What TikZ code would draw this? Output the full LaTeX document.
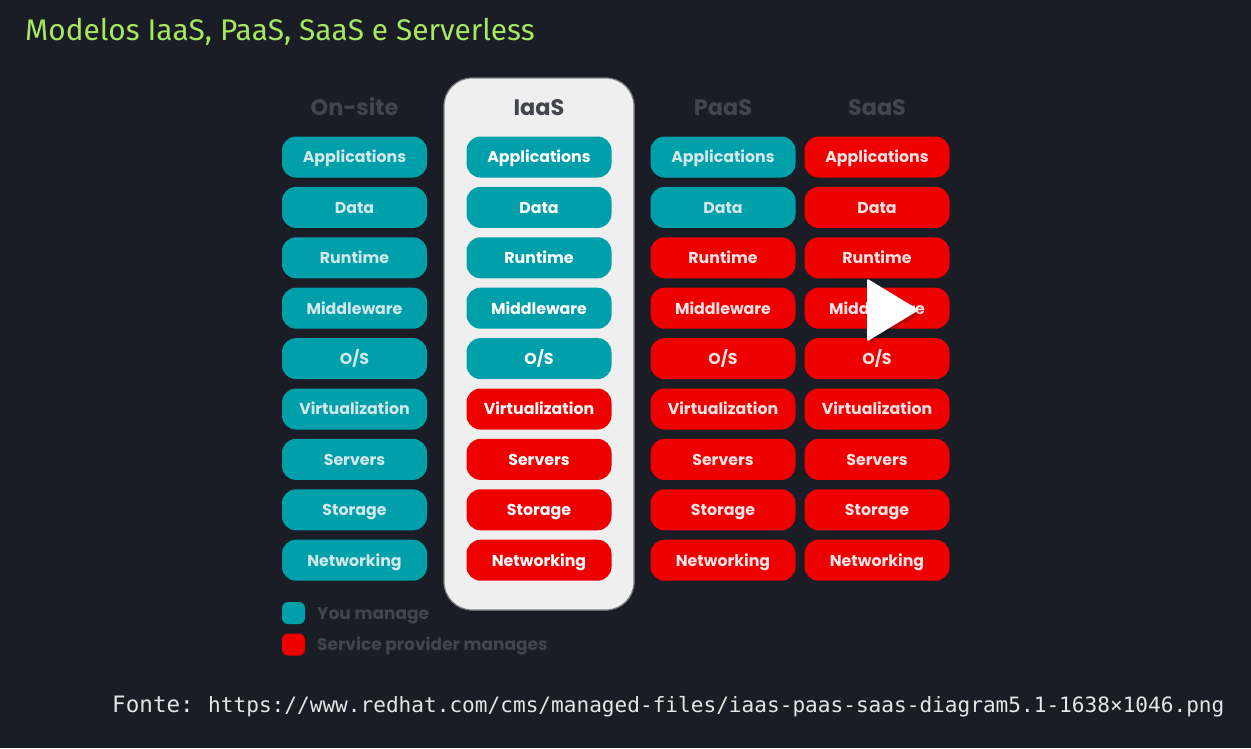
\documentclass[tikz,border=0pt]{standalone}
\usepackage{fontspec}
\setmainfont{Poppins}
\newfontfamily\titlefont{Fira Sans}
\newfontfamily\sourcefont{DejaVu Sans Mono}
\usetikzlibrary{calc}
\definecolor{fundo}{HTML}{1A1D26}
\definecolor{verdetitulo}{HTML}{A5E85F}
\definecolor{tealbox}{HTML}{00A0AB}
\definecolor{redbox}{HTML}{EE0000}
\definecolor{painel}{HTML}{EFEFEF}
\definecolor{cinza}{HTML}{43454C}
\definecolor{claro}{HTML}{D2E8EA}
\definecolor{rosado}{HTML}{FBE3E3}
\tikzset{
  camada/.style={rounded corners=14pt, minimum width=145pt, minimum height=41pt,
    inner sep=0pt, text height=14.6pt, text depth=3pt, font=\fontsize{15.8}{18}\selectfont\bfseries},
  gerido/.style={camada, fill=tealbox},
  provedor/.style={camada, fill=redbox},
  cabecalho/.style={text height=19pt, text depth=3pt, font=\fontsize{22.4}{26}\selectfont\bfseries},
  legenda/.style={anchor=base west, text=cinza, inner sep=0pt, font=\fontsize{17}{20}\selectfont\bfseries},
  marca/.style={rounded corners=6pt, minimum width=23pt, minimum height=22pt, inner sep=0pt}
}
\begin{document}
\begin{tikzpicture}[x=1pt,y=-1pt]
  % Fundo
  \fill[fundo] (0,0) rectangle (1251,748);
  \useasboundingbox (0,0) rectangle (1251,748);

  % Titulo
  \node[anchor=base west, text=verdetitulo, inner sep=0pt, font=\titlefont\fontsize{29.8}{34}\selectfont] (titulo) at (25,40)
    {Modelos IaaS, PaaS, SaaS e Serverless};

  % Painel claro da coluna IaaS
  \node[draw=gray, line width=1.2pt, fill=painel, rounded corners=28pt, minimum width=190pt,
    minimum height=532pt, inner sep=0pt] (painel) at (539,344) {};

  % Cabecalhos
  \node[cabecalho, text=cinza] (h-onsite) at (354.5,107) {On-site};
  \node[cabecalho, text=cinza] (h-iaas) at (539,107) {IaaS};
  \node[cabecalho, text=cinza] (h-paas) at (723,107) {PaaS};
  \node[cabecalho, text=cinza] (h-saas) at (877,107) {SaaS};

  % Colunas: \lim = numero de camadas geridas pelo cliente
  \foreach \cname/\cx/\lim/\tc/\rc in {onsite/354.5/9/claro/rosado, iaas/539/5/white/white, paas/723/2/claro/rosado, saas/877/0/white/rosado}
    \foreach \rname [count=\i] in {Applications,Data,Runtime,Middleware,O/S,Virtualization,Servers,Storage,Networking}
    {
      \ifnum\i>\lim
        \node[provedor, text=\rc] (\cname-\i) at (\cx,{157+(\i-1)*50.4}) {\rname};
      \else
        \node[gerido, text=\tc] (\cname-\i) at (\cx,{157+(\i-1)*50.4}) {\rname};
      \fi
    }

  % Legenda
  \node[marca, fill=tealbox] (m-you) at (293.5,613) {};
  \node[marca, fill=redbox] (m-prov) at (293.5,644.5) {};
  \node[legenda] (l-you) at (317,619) {You manage};
  \node[legenda] (l-prov) at (317,650) {Service provider manages};

  % Botao de play
  \fill[black, opacity=0.18, rounded corners=2pt] (870,282) -- (922,313) -- (870,344) -- cycle;
  \fill[white, rounded corners=1.5pt] (867,278.5) -- (919,310) -- (867,341.5) -- cycle;

  % Fonte
  \node[anchor=base west, text=white!90!black, inner sep=0pt, font=\sourcefont\fontsize{22.6}{26}\selectfont] (fonte) at (112,712) {Fonte:};
  \node[anchor=base west, text=white!90!black, inner sep=0pt, font=\sourcefont\fontsize{21.1}{26}\selectfont] (url) at (208,712)
    {https://www.redhat.com/cms/managed-files/iaas-paas-saas-diagram5.1-1638×1046.png};
\end{tikzpicture}
\end{document}
